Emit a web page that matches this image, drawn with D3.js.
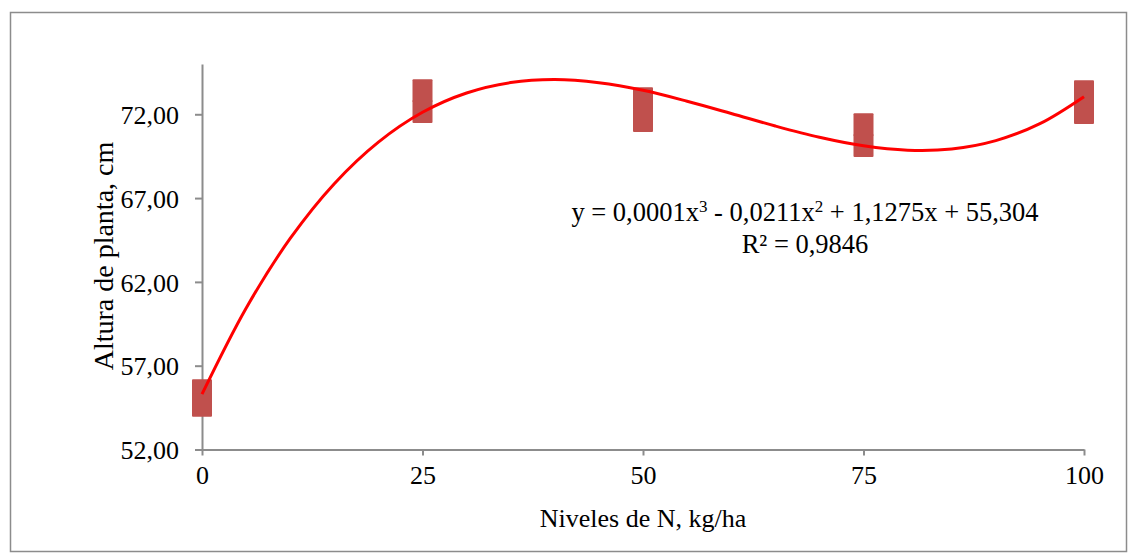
<!DOCTYPE html>
<html>
<head>
<meta charset="utf-8">
<script src="https://cdn.jsdelivr.net/npm/d3@7"></script>
<style>
  body { margin: 0; background: #fff; }
  svg text { font-family: "Liberation Serif", "Times New Roman", serif; fill: #000; }
</style>
</head>
<body>
<div id="chart"></div>
<script>
// observed plant heights (two replicates per N level)
const nLevels = [0, 0, 25, 25, 50, 50, 75, 75, 100, 100];
const heights = [55.50, 54.64, 73.40, 72.17, 72.92, 71.63, 71.37, 70.14, 73.34, 72.11];

// polynomial trendline
const trendX = [0, 5, 10, 15, 20, 25, 30, 35, 40, 45, 50, 55, 60, 65, 70, 75, 80, 85, 90, 95, 100];
const trendY = [55.30, 60.43, 64.59, 67.86, 70.34, 72.12, 73.27, 73.89, 74.07, 73.88, 73.43,
                72.78, 72.05, 71.30, 70.63, 70.12, 69.86, 69.93, 70.43, 71.44, 73.05];

const xTicks = [0, 25, 50, 75, 100];
const yTicks = [52, 57, 62, 67, 72];

const width = 1134, height = 560;
const margin = { top: 64, right: 50, bottom: 110.5, left: 202 };

const svg = d3.select('#chart').append('svg')
    .attr('width', width)
    .attr('height', height);

// outer frame
svg.append('rect')
    .attr('x', 10.5).attr('y', 12.5)
    .attr('width', 1116).attr('height', 539)
    .attr('fill', 'none')
    .attr('stroke', '#8c8c8c')
    .attr('stroke-width', 1.5);

const x = d3.scaleLinear().domain([0, 100]).range([margin.left, width - margin.right]);
const y = d3.scaleLinear().domain([52, 75]).range([height - margin.bottom, margin.top]);

const fmt = d => d.toFixed(2).replace('.', ',');

// axes
const xAxis = svg.append('g')
    .attr('transform', `translate(0,${y(52)})`)
    .call(d3.axisBottom(x).tickValues(xTicks).tickSizeInner(6).tickSizeOuter(0).tickPadding(10));
const yAxis = svg.append('g')
    .attr('transform', `translate(${x(0)},0)`)
    .call(d3.axisLeft(y).tickValues(yTicks).tickFormat(fmt).tickSizeInner(7).tickSizeOuter(0).tickPadding(16));

[xAxis, yAxis].forEach(g => {
    g.selectAll('path, line').attr('stroke', '#8c8c8c').attr('stroke-width', 2);
    g.selectAll('text').style('font-size', '26px').style('font-family', '"Liberation Serif", serif');
});
yAxis.selectAll('text').attr('dy', '0.35em');

// markers
const mW = 20, mH = 23;
svg.append('g')
    .selectAll('rect')
    .data(nLevels.map((n, i) => [n, heights[i]]))
    .enter()
    .append('rect')
    .attr('x', d => x(d[0]) - mW / 2)
    .attr('y', d => y(d[1]) - mH / 2)
    .attr('width', mW)
    .attr('height', mH)
    .attr('rx', 1)
    .attr('fill', '#c0504d');

// trendline
const line = d3.line()
    .x(d => x(d[0]))
    .y(d => y(d[1]))
    .curve(d3.curveCatmullRom);
svg.append('path')
    .datum(trendX.map((v, i) => [v, trendY[i]]))
    .attr('d', line)
    .attr('fill', 'none')
    .attr('stroke', '#ff0000')
    .attr('stroke-width', 3);

// equation
const eq = svg.append('text')
    .attr('x', 805).attr('y', 221)
    .attr('text-anchor', 'middle')
    .style('font-size', '26.5px');
eq.append('tspan').text('y = 0,0001x');
eq.append('tspan').attr('dy', -9).style('font-size', '17px').text('3');
eq.append('tspan').attr('dy', 9).text(' - 0,0211x');
eq.append('tspan').attr('dy', -9).style('font-size', '17px').text('2');
eq.append('tspan').attr('dy', 9).text(' + 1,1275x + 55,304');

svg.append('text')
    .attr('x', 805).attr('y', 253)
    .attr('text-anchor', 'middle')
    .style('font-size', '26.5px')
    .text('R² = 0,9846');

// axis titles
svg.append('text')
    .attr('x', x(50)).attr('y', 527)
    .attr('text-anchor', 'middle')
    .style('font-size', '26px')
    .text('Niveles de N, kg/ha');

svg.append('text')
    .attr('transform', `translate(113,256) rotate(-90)`)
    .attr('text-anchor', 'middle')
    .style('font-size', '28px')
    .text('Altura de planta, cm');
</script>
</body>
</html>
